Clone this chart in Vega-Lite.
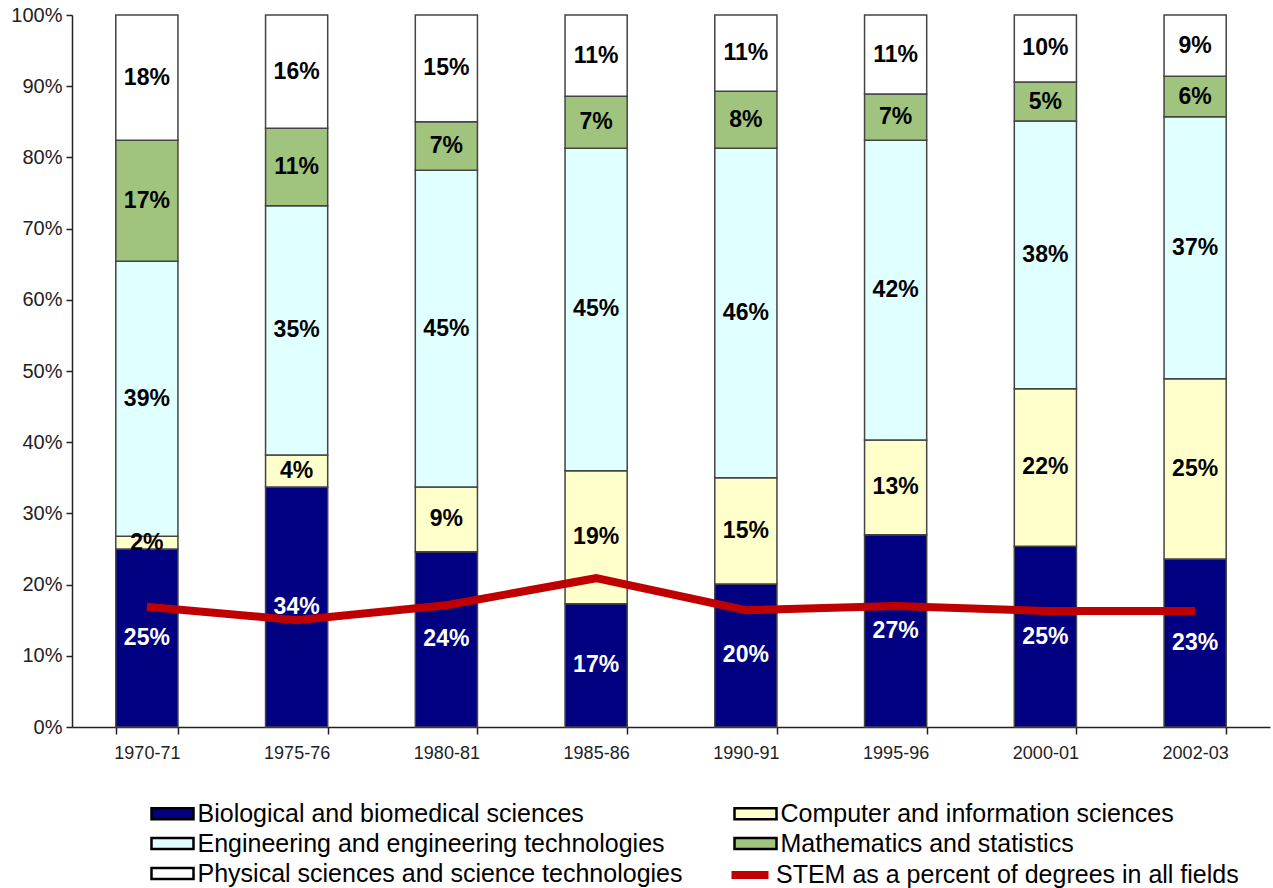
{
  "$schema": "https://vega.github.io/schema/vega-lite/v6.json",
  "width": 1198,
  "height": 712,
  "autosize": {"type": "none"},
  "padding": {"left": 72, "top": 15, "right": 3, "bottom": 161},
  "background": "white",
  "config": {
    "view": {"stroke": null},
    "font": "Liberation Sans"
  },
  "datasets": {
    "bars": [
      {"period": "1970-71", "category": "Biological and biomedical sciences", "value": 25.0, "label": "25%"},
      {"period": "1970-71", "category": "Computer and information sciences", "value": 1.8, "label": "2%"},
      {"period": "1970-71", "category": "Engineering and engineering technologies", "value": 38.6, "label": "39%"},
      {"period": "1970-71", "category": "Mathematics and statistics", "value": 17.0, "label": "17%"},
      {"period": "1970-71", "category": "Physical sciences and science technologies", "value": 17.6, "label": "18%"},
      {"period": "1975-76", "category": "Biological and biomedical sciences", "value": 33.7, "label": "34%"},
      {"period": "1975-76", "category": "Computer and information sciences", "value": 4.5, "label": "4%"},
      {"period": "1975-76", "category": "Engineering and engineering technologies", "value": 35.0, "label": "35%"},
      {"period": "1975-76", "category": "Mathematics and statistics", "value": 10.9, "label": "11%"},
      {"period": "1975-76", "category": "Physical sciences and science technologies", "value": 15.9, "label": "16%"},
      {"period": "1980-81", "category": "Biological and biomedical sciences", "value": 24.6, "label": "24%"},
      {"period": "1980-81", "category": "Computer and information sciences", "value": 9.1, "label": "9%"},
      {"period": "1980-81", "category": "Engineering and engineering technologies", "value": 44.5, "label": "45%"},
      {"period": "1980-81", "category": "Mathematics and statistics", "value": 6.8, "label": "7%"},
      {"period": "1980-81", "category": "Physical sciences and science technologies", "value": 15.0, "label": "15%"},
      {"period": "1985-86", "category": "Biological and biomedical sciences", "value": 17.3, "label": "17%"},
      {"period": "1985-86", "category": "Computer and information sciences", "value": 18.7, "label": "19%"},
      {"period": "1985-86", "category": "Engineering and engineering technologies", "value": 45.3, "label": "45%"},
      {"period": "1985-86", "category": "Mathematics and statistics", "value": 7.3, "label": "7%"},
      {"period": "1985-86", "category": "Physical sciences and science technologies", "value": 11.4, "label": "11%"},
      {"period": "1990-91", "category": "Biological and biomedical sciences", "value": 20.1, "label": "20%"},
      {"period": "1990-91", "category": "Computer and information sciences", "value": 14.9, "label": "15%"},
      {"period": "1990-91", "category": "Engineering and engineering technologies", "value": 46.3, "label": "46%"},
      {"period": "1990-91", "category": "Mathematics and statistics", "value": 8.0, "label": "8%"},
      {"period": "1990-91", "category": "Physical sciences and science technologies", "value": 10.7, "label": "11%"},
      {"period": "1995-96", "category": "Biological and biomedical sciences", "value": 27.0, "label": "27%"},
      {"period": "1995-96", "category": "Computer and information sciences", "value": 13.3, "label": "13%"},
      {"period": "1995-96", "category": "Engineering and engineering technologies", "value": 42.1, "label": "42%"},
      {"period": "1995-96", "category": "Mathematics and statistics", "value": 6.5, "label": "7%"},
      {"period": "1995-96", "category": "Physical sciences and science technologies", "value": 11.1, "label": "11%"},
      {"period": "2000-01", "category": "Biological and biomedical sciences", "value": 25.4, "label": "25%"},
      {"period": "2000-01", "category": "Computer and information sciences", "value": 22.1, "label": "22%"},
      {"period": "2000-01", "category": "Engineering and engineering technologies", "value": 37.6, "label": "38%"},
      {"period": "2000-01", "category": "Mathematics and statistics", "value": 5.5, "label": "5%"},
      {"period": "2000-01", "category": "Physical sciences and science technologies", "value": 9.4, "label": "10%"},
      {"period": "2002-03", "category": "Biological and biomedical sciences", "value": 23.6, "label": "23%"},
      {"period": "2002-03", "category": "Computer and information sciences", "value": 25.3, "label": "25%"},
      {"period": "2002-03", "category": "Engineering and engineering technologies", "value": 36.8, "label": "37%"},
      {"period": "2002-03", "category": "Mathematics and statistics", "value": 5.7, "label": "6%"},
      {"period": "2002-03", "category": "Physical sciences and science technologies", "value": 8.6, "label": "9%"}
    ],
    "stem": [
      {"period": "1970-71", "series": "STEM as a percent of degrees in all fields", "value": 16.9},
      {"period": "1975-76", "series": "STEM as a percent of degrees in all fields", "value": 15.0},
      {"period": "1980-81", "series": "STEM as a percent of degrees in all fields", "value": 17.1},
      {"period": "1985-86", "series": "STEM as a percent of degrees in all fields", "value": 20.9},
      {"period": "1990-91", "series": "STEM as a percent of degrees in all fields", "value": 16.4},
      {"period": "1995-96", "series": "STEM as a percent of degrees in all fields", "value": 17.0},
      {"period": "2000-01", "series": "STEM as a percent of degrees in all fields", "value": 16.3},
      {"period": "2002-03", "series": "STEM as a percent of degrees in all fields", "value": 16.3}
    ]
  },
  "encoding": {
    "x": {
      "field": "period",
      "type": "nominal",
      "sort": null,
      "scale": {"paddingInner": 0.585, "paddingOuter": 0.2925},
      "axis": {
        "title": null,
        "labelAngle": 0,
        "labelFontSize": 18,
        "labelColor": "#222222",
        "labelPadding": 10,
        "tickBand": "extent",
        "tickSize": 7,
        "tickColor": "#222222",
        "tickWidth": 1.5,
        "domainColor": "#222222",
        "domainWidth": 1.5,
        "grid": false
      }
    }
  },
  "layer": [
    {
      "mark": {"type": "rule", "stroke": "#aaaaaa", "strokeWidth": 2},
      "encoding": {"x": null, "y": {"datum": 100, "type": "quantitative", "scale": {"domain": [0, 100]}}}
    },
    {
      "data": {"name": "bars"},
      "transform": [
        {"stack": "value", "groupby": ["period"], "sort": [{"field": "category", "order": "ascending"}], "as": ["v0", "v1"]}
      ],
      "mark": {"type": "bar", "stroke": "#444444", "strokeWidth": 1.5},
      "encoding": {
        "y": {
          "field": "v0",
          "type": "quantitative",
          "scale": {"domain": [0, 100], "nice": false},
          "axis": {
            "title": null,
            "values": [0, 10, 20, 30, 40, 50, 60, 70, 80, 90, 100],
            "labelExpr": "datum.value + '%'",
            "labelFontSize": 20,
            "labelColor": "#222222",
            "labelPadding": 4,
            "tickSize": 6,
            "tickColor": "#222222",
            "tickWidth": 1.5,
            "domainColor": "#222222",
            "domainWidth": 1.5,
            "grid": false
          }
        },
        "y2": {"field": "v1"},
        "fill": {
          "field": "category",
          "type": "nominal",
          "scale": {
            "domain": [
              "Biological and biomedical sciences",
              "Computer and information sciences",
              "Engineering and engineering technologies",
              "Mathematics and statistics",
              "Physical sciences and science technologies"
            ],
            "range": ["#000080", "#FFFFCC", "#E0FFFF", "#A0C47E", "#FFFFFF"]
          },
          "legend": {
            "title": null,
            "orient": "none",
            "legendX": 88,
            "legendY": 786,
            "direction": "horizontal",
            "columns": 2,
            "columnPadding": 46,
            "rowPadding": 4,
            "symbolType": "M-2.1,-0.55H2.1V0.55H-2.1Z",
            "symbolSize": 400,
            "symbolOpacity": 1,
            "symbolStrokeColor": "#000000",
            "symbolStrokeWidth": 2.5,
            "labelFontSize": 25,
            "labelColor": "#000000",
            "labelLimit": 700,
            "labelOffset": 12.5
          }
        },
        "order": {"field": "category", "sort": "ascending"}
      }
    },
    {
      "data": {"name": "stem"},
      "mark": {"type": "line", "strokeWidth": 8, "strokeJoin": "miter"},
      "encoding": {
        "y": {"field": "value", "type": "quantitative"},
        "stroke": {
          "field": "series",
          "type": "nominal",
          "scale": {"domain": ["STEM as a percent of degrees in all fields"], "range": ["#C00000"]},
          "legend": {
            "title": null,
            "orient": "none",
            "legendX": 664,
            "legendY": 846,
            "symbolType": "M-1.85,0H1.85",
            "symbolSize": 400,
            "symbolStrokeWidth": 8,
            "symbolOpacity": 1,
            "labelFontSize": 25,
            "labelColor": "#000000",
            "labelLimit": 700,
            "labelOffset": 12
          }
        }
      }
    },
    {
      "data": {"name": "bars"},
      "transform": [
        {"stack": "value", "groupby": ["period"], "sort": [{"field": "category", "order": "ascending"}], "as": ["v0", "v1"]},
        {"calculate": "(datum.v0 + datum.v1) / 2", "as": "mid"},
        {"filter": "datum.category !== 'Biological and biomedical sciences'"}
      ],
      "mark": {"type": "text", "fontSize": 23, "fontWeight": "bold", "baseline": "middle", "align": "center", "color": "#000000"},
      "encoding": {
        "y": {"field": "mid", "type": "quantitative"},
        "text": {"field": "label"}
      }
    },
    {
      "data": {"name": "bars"},
      "transform": [
        {"stack": "value", "groupby": ["period"], "sort": [{"field": "category", "order": "ascending"}], "as": ["v0", "v1"]},
        {"calculate": "(datum.v0 + datum.v1) / 2", "as": "mid"},
        {"filter": "datum.category === 'Biological and biomedical sciences'"}
      ],
      "mark": {"type": "text", "fontSize": 23, "fontWeight": "bold", "baseline": "middle", "align": "center", "color": "#FFFFFF"},
      "encoding": {
        "y": {"field": "mid", "type": "quantitative"},
        "text": {"field": "label"}
      }
    }
  ]
}
